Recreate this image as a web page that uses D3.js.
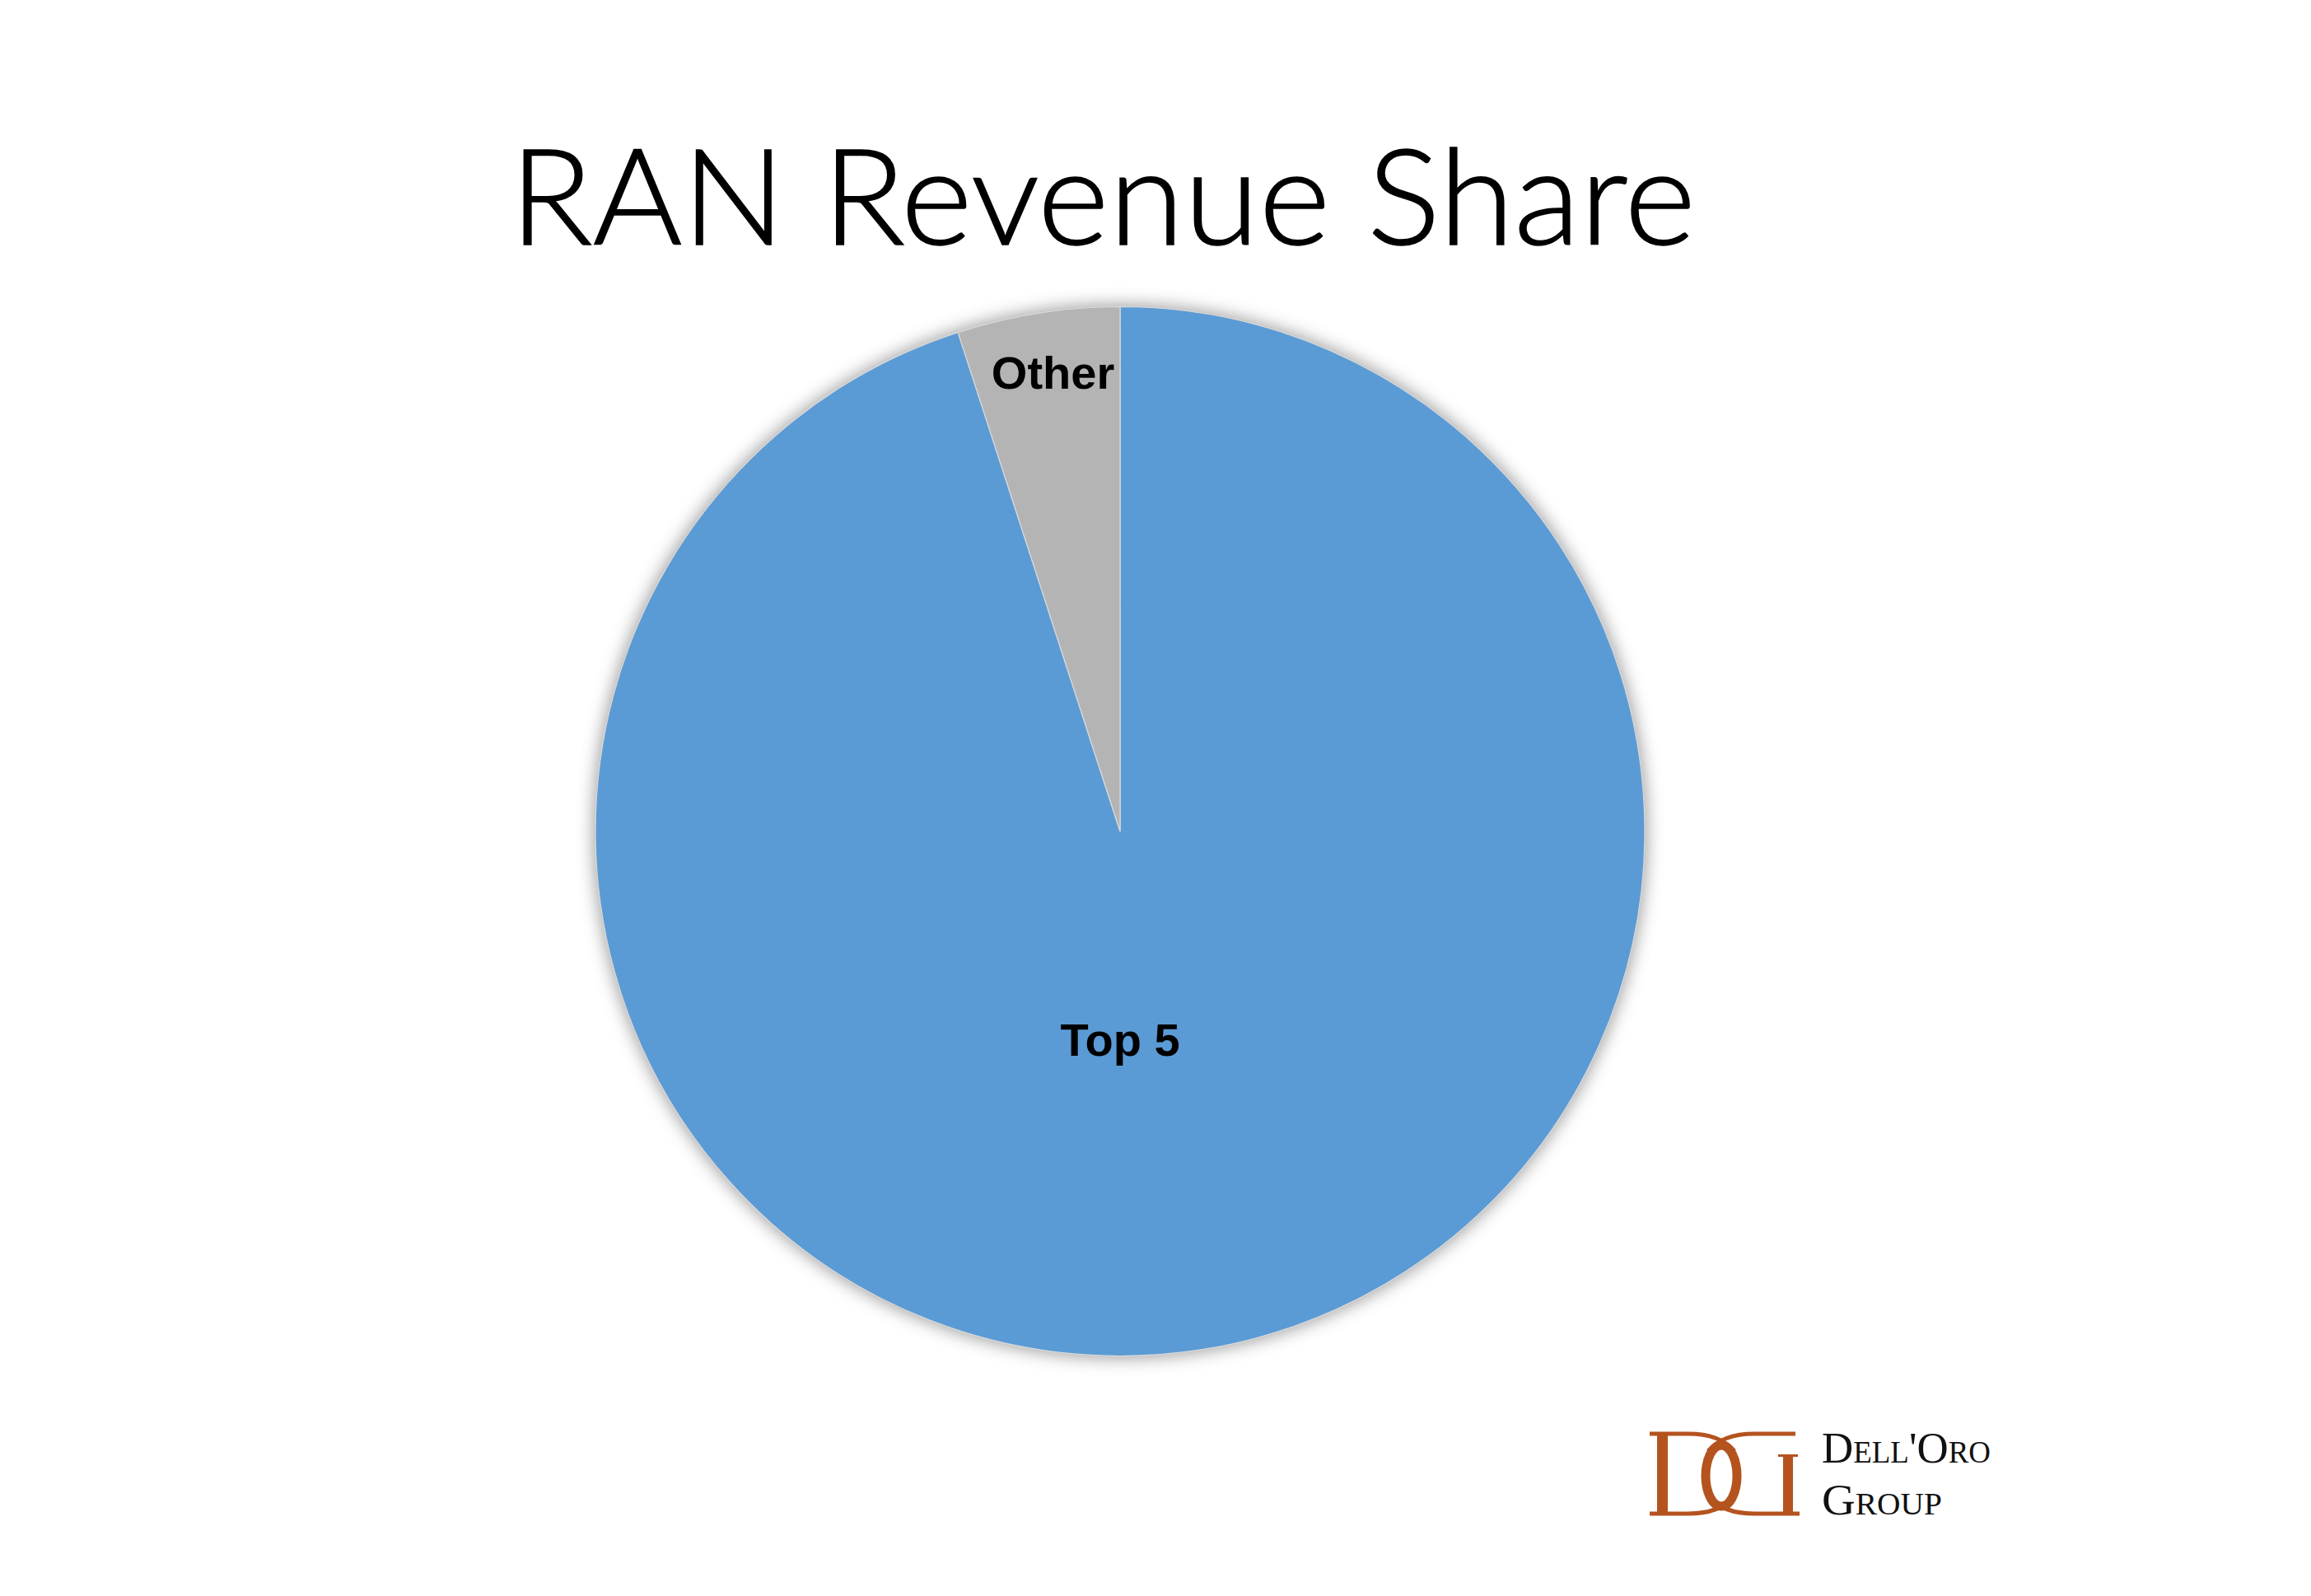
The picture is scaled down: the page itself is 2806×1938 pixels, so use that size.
<!DOCTYPE html>
<html>
<head>
<meta charset="utf-8">
<script src="https://cdn.jsdelivr.net/npm/d3@7"></script>
<style>
  html, body { margin: 0; padding: 0; background: #ffffff; }
  svg { display: block; }
</style>
</head>
<body>
<script>
// ---- data ----
const categories = ["Top 5", "Other"];
const shares = [95, 5];
const colors = ["#5B9BD5", "#B4B4B4"];
const titleText = "RAN Revenue Share";
const logoLines = ["Dell'Oro", "Group"];

const W = 2806, H = 1938;
const cx = 1360, cy = 1009.5, R = 637;

const svg = d3.select("body").append("svg")
  .attr("width", W).attr("height", H)
  .style("background", "#ffffff");

const defs = svg.append("defs");
const f = defs.append("filter").attr("id", "shadow")
  .attr("x", "-20%").attr("y", "-20%").attr("width", "140%").attr("height", "140%");
f.append("feGaussianBlur").attr("stdDeviation", 10);

// title
const title = svg.append("text")
  .attr("x", 1339).attr("y", 297)
  .attr("text-anchor", "middle")
  .style("font-family", "Lato, 'Open Sans', sans-serif")
  .style("font-weight", 300)
  .style("font-size", "161px")
  .style("stroke", "#000").style("stroke-width", 1.5)
  .attr("fill", "#000")
  .text(titleText);
title.attr("textLength", 1440).attr("lengthAdjust", "spacingAndGlyphs");

// pie
const data = categories.map((c, i) => ({ name: c, value: shares[i], color: colors[i] }));
const pie = d3.pie().sort(null).value(d => d.value).startAngle(0).endAngle(2 * Math.PI);
const arcs = pie(data);
const arc = d3.arc().innerRadius(0).outerRadius(R);

const g = svg.append("g").attr("transform", `translate(${cx},${cy})`);

g.append("circle").attr("r", R + 3)
  .attr("fill", "#8a8a8a").attr("opacity", 0.8)
  .attr("filter", "url(#shadow)");

g.selectAll("path.slice").data(arcs).join("path")
  .attr("class", "slice")
  .attr("d", arc)
  .attr("fill", d => d.data.color)
  .attr("stroke", "#d9d9d9")
  .attr("stroke-width", 1.2);

// label placement: radius fraction and angle (big slice label sits straight below centre)
const labelFactor = { "Top 5": 0.396, "Other": 0.885 };
g.selectAll("text.lbl").data(arcs).join("text")
  .attr("class", "lbl")
  .each(function(d) {
    const r = R * labelFactor[d.data.name];
    const big = (d.endAngle - d.startAngle) > Math.PI;
    const a = big ? Math.PI : (d.startAngle + d.endAngle) / 2 + 0.012;
    const p = d3.pointRadial(a, r);
    d3.select(this).attr("x", p[0]).attr("y", p[1] + 20);
  })
  .attr("text-anchor", "middle")
  .style("font-family", "'Liberation Sans', Arial, sans-serif")
  .style("font-weight", "bold")
  .style("font-size", "56px")
  .attr("fill", "#000")
  .text(d => d.data.name);

// logo
const rust = "#B5531F";
const lg = svg.append("g");
lg.append("rect").attr("x", 2012).attr("y", 1741).attr("width", 13).attr("height", 97).attr("fill", rust);
lg.append("rect").attr("x", 2165).attr("y", 1768).attr("width", 12).attr("height", 70).attr("fill", rust);
lg.append("rect").attr("x", 2159).attr("y", 1766).attr("width", 24).attr("height", 3).attr("fill", rust);
const strokes = [
  "M2003,1741 L2050,1741 Q2088,1741 2106,1762",
  "M2180,1741 L2130,1741 Q2092,1741 2074,1762",
  "M2003,1838 L2050,1838 Q2088,1838 2106,1817",
  "M2185,1838 L2130,1838 Q2092,1838 2074,1817"
];
lg.selectAll("path.s").data(strokes).join("path")
  .attr("class", "s").attr("d", d => d)
  .attr("fill", "none").attr("stroke", rust).attr("stroke-width", 5);
lg.append("ellipse").attr("cx", 2090).attr("cy", 1792).attr("rx", 19).attr("ry", 37)
  .attr("fill", "none").attr("stroke", rust).attr("stroke-width", 11);

const logoText = svg.append("g")
  .style("font-family", "'Liberation Serif', 'Times New Roman', serif")
  .style("font-size", "53px")
  .style("font-variant", "small-caps")
  .attr("fill", "#111");
logoText.append("text").attr("x", 2212).attr("y", 1776)
  .attr("textLength", 205).attr("lengthAdjust", "spacingAndGlyphs").text(logoLines[0]);
logoText.append("text").attr("x", 2212).attr("y", 1839)
  .attr("textLength", 146).attr("lengthAdjust", "spacingAndGlyphs").text(logoLines[1]);
</script>
</body>
</html>
